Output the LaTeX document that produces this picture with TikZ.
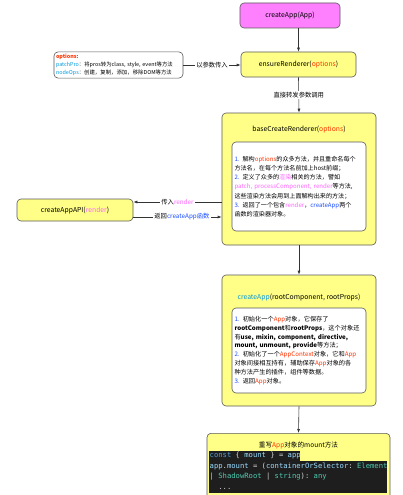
\documentclass[tikz,border=0pt]{standalone}
\usepackage{fontspec}
\setmainfont{Noto Sans CJK SC}
\setmonofont{DejaVu Sans Mono}
\usetikzlibrary{arrows.meta,positioning}

\definecolor{stageyellow}{HTML}{FFFF88}
\definecolor{appmagenta}{HTML}{FF80FF}
\definecolor{optred}{HTML}{FF3300}
\definecolor{renderpink}{HTML}{FF66FF}
\definecolor{stepblue}{HTML}{1A4DFF}
\definecolor{keycyan}{HTML}{0099DD}
\definecolor{codebg}{HTML}{1E1E1E}
\definecolor{codekw}{HTML}{569CD6}
\definecolor{codevar}{HTML}{9CDCFE}
\definecolor{codetype}{HTML}{4EC9B0}
\definecolor{codetxt}{HTML}{D4D4D4}

\newcommand{\opt}[1]{\textcolor{optred}{#1}}
\newcommand{\rnd}[1]{\textcolor{renderpink}{#1}}
\newcommand{\stepno}[1]{\textcolor{stepblue}{#1}}

\begin{document}
\begin{tikzpicture}[x=1pt,y=-1pt,% pixel coordinates, y going down
        stagebox/.style={draw=black!65,line width=0.6pt,rounded corners=4pt,fill=stageyellow,font=\fontsize{6.8}{8}\selectfont},
        notebox/.style={draw=black!65,line width=0.6pt,rounded corners=4pt,fill=white,align=left},
        flow/.style={draw=black!80,line width=0.6pt,-{Latex[length=4pt,width=3pt]}},
        edgelabel/.style={fill=white,inner sep=1.5pt,font=\fontsize{6.3}{7}\selectfont}]
\useasboundingbox (0,0) rectangle (402,495);
\clip (0,0) rectangle (402,495);

% top of the chain
\node[stagebox,fill=appmagenta,minimum width=100,minimum height=25] (app) at (290,15.5) {createApp(App)};
\node[stagebox,minimum width=115,minimum height=25] (ensure) at (298.5,64.5) {ensureRenderer(\opt{options})};
\node[notebox,text width=125,inner sep=2pt,minimum height=24,font=\fontsize{5.4}{8.2}\selectfont] (opts) at (118.5,65) {%
\textcolor{optred}{\textbf{options:}}\\
\textcolor{keycyan}{patchPro}：将pros转为class, style, event等方法\\
\textcolor{keycyan}{nodeOps}：创建，复制，添加，移除DOM等方法};

% baseCreateRenderer
\node[stagebox,minimum width=154,minimum height=132] (base) at (299,179) {};
\node[font=\fontsize{6.8}{8}\selectfont] (basetitle) at (299,129) {baseCreateRenderer(\opt{options})};
\node[notebox,text width=129,inner sep=2.5pt,minimum height=89,font=\fontsize{6.1}{9.2}\selectfont] (baseinner) at (299,186.5) {%
\stepno{1.} 解构\opt{options}的众多方法，并且重命名每个\\
方法名，在每个方法名前加上host前缀；\\
\stepno{2.} 定义了众多的\rnd{渲染}相关的方法，譬如\\
\rnd{patch, processComponent, render}等方法,\\
这些渲染方法会用到上面解构出来的方法；\\
\stepno{3.} 返回了一个包含\rnd{render}，\stepno{createApp}两个\\
函数的渲染器对象。};

\node[stagebox,minimum width=116,minimum height=22] (api) at (75,210) {createAppAPI(\rnd{render})};

% createApp
\node[stagebox,minimum width=154,minimum height=131] (create) at (299,340.5) {};
\node[font=\fontsize{6.8}{8}\selectfont] (createtitle) at (299,297) {\textcolor{keycyan}{createApp}(rootComponent, rootProps)};
\node[notebox,text width=129,inner sep=2.5pt,minimum height=85,font=\fontsize{6.2}{8.9}\selectfont] (createinner) at (299,350.5) {%
\stepno{1.} 初始化一个\opt{App}对象，它保存了\\
\textbf{rootComponent}和\textbf{rootProps}，这个对象还\\
有\textbf{use, mixin, component, directive,}\\
\textbf{mount, unmount, provide}等方法；\\
\stepno{2.} 初始化了一个\opt{AppContext}对象，它和\opt{App}\\
对象间接相互持有，辅助保存\opt{App}对象的各\\
种方法产生的插件，组件等数据。\\
\stepno{3.} 返回\opt{App}对象。};

% mount, cut by the bottom edge
\node[stagebox,minimum width=183,minimum height=80,anchor=north] (mount) at (298.5,433) {};
\node[font=\fontsize{6.6}{8}\selectfont] (mounttitle) at (298.5,445) {重写\opt{App}对象的mount方法};
\fill[codebg] (209,451) rectangle (300,461);
\fill[codebg] (209,461) rectangle (387,493);
\node[anchor=north west,inner sep=0pt,align=left,font=\fontsize{7.2}{10.5}\ttfamily] (code) at (209.5,452) {%
\textcolor{codekw}{const} \textcolor{codetxt}{\{} \textcolor{codevar}{mount} \textcolor{codetxt}{\} =} \textcolor{codevar}{app}\\
\textcolor{codevar}{app}\textcolor{codetxt}{.}\textcolor{codevar}{mount} \textcolor{codetxt}{= (}\textcolor{codevar}{containerOrSelector}\textcolor{codetxt}{:} \textcolor{codetype}{Element}\\
\textcolor{codetxt}{|} \textcolor{codetype}{ShadowRoot} \textcolor{codetxt}{|} \textcolor{codetype}{string}\textcolor{codetxt}{):} \textcolor{codetype}{any}\\
\textcolor{codetxt}{\ \ ...}};

% connectors
\draw[flow] (ensure.north |- app.south) -- (ensure.north);
\draw[flow] (opts.east) -- node[edgelabel] {以参数传入} (opts.east -| ensure.west);
\draw[flow] (ensure.south) -- node[edgelabel] {直接转发参数调用} (base.north);
\coordinate (passin) at ([yshift=8pt]api.east);
\coordinate (giveback) at ([yshift=-7pt]api.east);
\draw[flow] (passin -| base.west) -- node[edgelabel] {传入\rnd{render}} (passin);
\draw[flow] (giveback) -- node[edgelabel,pos=0.55] {返回\stepno{createApp函数}} (giveback -| base.west);
\draw[flow] (base.south) -- (create.north);
\draw[flow] (create.south) -- (mount.north);

\end{tikzpicture}
\end{document}
